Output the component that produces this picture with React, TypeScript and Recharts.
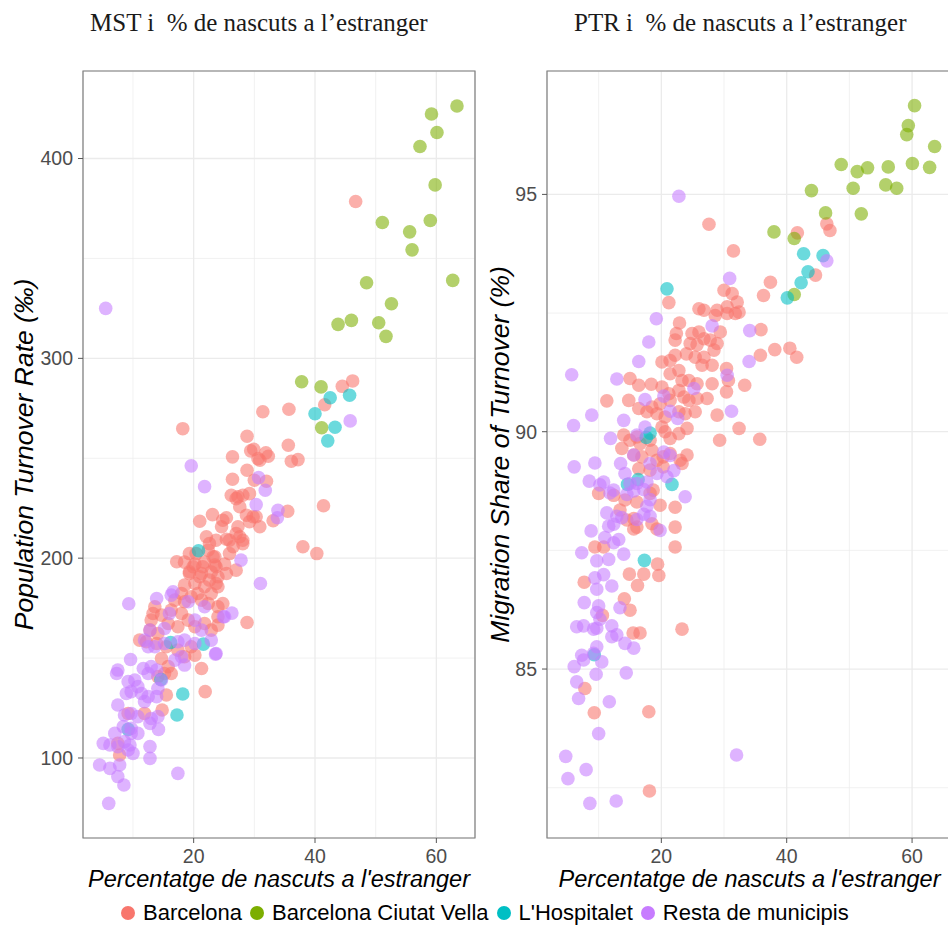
import React from 'react';
import {
  ScatterChart,
  Scatter,
  XAxis,
  YAxis,
  CartesianGrid,
  ReferenceArea,
} from 'recharts';

// ---- data ----
type Pt = [number, number];

const groups = ['Barcelona', 'Barcelona Ciutat Vella', "L'Hospitalet", 'Resta de municipis'];
const groupColors = ['#F8766D', '#7CAE00', '#00BFC4', '#C77CFF'];

const xTicks = [20, 40, 60];
const xMinor = [10, 30, 50];
const xDomain: [number, number] = [1.76, 66.37];

const mstTicks = [100, 200, 300, 400];
const mstMinor = [150, 250, 350];
const mstDomain: [number, number] = [59.96, 443.8];

const ptrTicks = [85, 90, 95];
const ptrMinor = [82.5, 87.5, 92.5];
const ptrDomain: [number, number] = [81.44, 97.6];

// MST panel
const mstBarcelona: Pt[] = [
  [46.7, 378.5], [18.2, 264.8], [46.2, 288.7], [44.5, 286], [41.6, 276.8], [31.4, 273.3], [35.7, 274.5], [28.8, 261], [35.6, 256.5],
  [29.9, 254.5], [29.4, 253.7], [31.9, 252.7], [32.3, 251], [26.4, 250.7], [30.6, 249.8], [36.1, 248.5], [37.2, 249.3],
  [30.9, 249], [28.8, 244], [26.4, 239.5], [30.0, 239], [32.0, 238.5],
  [26.2, 231.5], [27.3, 230.7], [28.1, 231.5], [29.2, 232.3], [35.5, 223.5], [41.4, 226.2],
  [21.0, 218.5], [23.1, 221.8], [25.4, 220.2], [24.6, 215.7], [27.3, 215.7], [28.7, 221.5], [29.2, 218.2], [30.3, 220.7], [30.9, 215.7], [33.1, 218.7],
  [38.0, 205.7], [40.3, 202.3],
  [22.1, 210.7], [22.6, 207.3], [22.4, 204], [23.5, 200.7], [25.9, 209], [26.5, 205.7], [27.0, 212.3], [27.6, 210.7], [28.1, 207.3], [25.9, 202.3],
  [17.2, 198.2], [19.3, 202.3], [19.9, 195.7], [21.5, 195.7], [23.7, 195.7], [25.4, 192.3], [27.0, 194], [19.3, 193.2], [21.0, 190.7],
  [27.0, 229.8], [27.6, 225.7], [29.8, 220.7], [24.8, 219],
  [23.7, 209], [25.4, 209.5], [28.1, 209], [23.2, 200.7], [20.4, 202.3], [22.6, 189], [23.7, 187.3],
  [18.5, 198], [20.2, 197], [21.8, 198], [23.5, 196.5], [25.1, 197],
  [19.3, 192.3], [21.3, 192.3], [22.9, 193], [24.0, 190.7],
  [18.5, 186.5], [20.2, 187.3], [21.8, 185.7], [20.7, 182.3], [22.9, 182.3], [24.0, 185.7],
  [18.0, 182.3], [16.9, 179], [18.5, 178.2], [19.6, 180.7], [21.3, 179], [22.4, 177.3], [24.0, 175.7], [24.8, 177.3],
  [13.6, 175.7], [13.3, 172.3], [14.7, 171.5], [16.3, 174], [18.0, 172.3], [15.8, 167.3], [17.4, 165.7], [19.1, 169], [20.2, 165.7],
  [21.8, 167.3], [22.9, 164], [24.0, 170.7], [24.0, 166.5], [28.8, 167.8],
  [13.0, 169], [12.8, 164], [14.1, 162.3],
  [11.1, 159], [12.2, 158.2], [13.9, 157.3], [15.5, 155.7], [17.4, 154], [19.6, 155.7], [20.2, 151.5], [18.5, 150.7],
  [14.7, 149.8], [15.8, 145.7], [15.2, 142.3], [14.1, 140.7], [16.3, 142.3],
  [21.3, 144.8], [21.9, 133.2], [15.5, 131.5], [14.8, 124], [9.2, 122.3], [11.9, 122.3], [7.8, 101.5], [7.5, 107.3],
];

const mstCiutatVella: Pt[] = [
  [63.4, 426.3], [59.2, 422.3], [60.1, 413], [57.3, 406], [59.8, 386.8], [51.1, 368], [55.6, 363.3], [59.0, 369], [56.0, 354.3],
  [48.5, 337.8], [62.7, 339], [52.6, 327.3], [43.8, 317], [46.0, 319], [50.5, 317.8], [51.7, 311], [37.8, 288.3], [41.0, 285.7], [41.1, 265.3],
];

const mstHospitalet: Pt[] = [
  [42.5, 280.3], [45.7, 281.5], [40.0, 272.3], [43.3, 265.5], [42.1, 258.7],
  [20.8, 203.7], [16.2, 157.8], [21.6, 157], [14.6, 139.3], [18.2, 132], [17.25, 121.5], [9.2, 114.3],
];

const mstResta: Pt[] = [
  [5.5, 325], [19.6, 246.2], [21.8, 235.8], [30.7, 240.3], [31.8, 234], [30.3, 226.8], [33.9, 224], [33.8, 220.2], [27.8, 199],
  [31.0, 187.3], [9.3, 177.2], [24.9, 170.7], [23.6, 152], [17.4, 92.3], [6.0, 77.3], [45.8, 268.7], [26.3, 172.5],
  [13.9, 179.8], [16.3, 181.5], [16.6, 183.2],
  [16.0, 172.3], [19.1, 178.2], [21.8, 175.7], [25.1, 170.7], [20.2, 169], [21.3, 164], [12.8, 164], [15.2, 164.8],
  [11.9, 159], [12.5, 155.7], [13.6, 155.7], [15.2, 157.3], [17.4, 158.2], [18.5, 159], [20.2, 157.3], [22.9, 159], [23.7, 152.3],
  [18.0, 150.7], [16.9, 149], [18.5, 146.5],
  [9.6, 149.3], [7.5, 144], [7.3, 142.3],
  [11.7, 144.8], [13.0, 145.7], [12.5, 142.3], [13.9, 144],
  [9.2, 138.2], [10.3, 139], [10.8, 135.7], [9.7, 133.2], [11.4, 132.3], [12.5, 130.7], [11.9, 128.2], [8.9, 132.3], [14.1, 134.8], [13.9, 130.7],
  [14.7, 139],
  [7.5, 126.5], [8.6, 121.5], [9.7, 122.3], [10.8, 120.7], [13.0, 119.8], [14.1, 120.7], [8.4, 115.7], [9.7, 114.8], [9.7, 112.3],
  [10.8, 112.3], [14.2, 114.3], [12.8, 117.3],
  [7.0, 112.3], [5.1, 107.3], [6.2, 106.5], [7.5, 105.7], [8.6, 108.2], [9.5, 106.5], [9.2, 104], [10.0, 102.3], [12.8, 105.7], [12.8, 99.8],
  [4.5, 96.5], [6.2, 94.8], [7.8, 96.5], [7.5, 90.7], [8.5, 86.5],
];

// PTR panel
const ptrBarcelona: Pt[] = [
  [27.6, 94.37], [31.5, 93.81], [41.7, 94.19], [46.4, 94.38], [46.9, 94.24], [44.6, 93.3], [40.5, 91.76], [41.6, 91.57],
  [21.2, 92.72],
  [26.0, 92.59], [26.8, 92.56], [28.9, 92.56], [30.5, 92.63], [32.1, 92.73], [30.0, 92.98], [31.3, 92.91], [28.6, 92.45], [30.5, 92.49],
  [31.8, 92.49], [32.4, 92.52],
  [36.3, 92.87], [37.4, 93.15], [35.9, 92.15], [35.8, 91.61], [38.1, 91.73],
  [22.9, 92.29], [22.4, 92.07], [22.2, 91.93], [24.9, 92.07], [26.0, 92.1], [26.8, 91.96], [27.8, 91.93], [28.9, 91.86], [29.4, 92.1],
  [28.4, 91.72], [25.7, 91.83], [24.6, 91.86], [25.4, 91.57], [26.8, 91.57], [28.1, 91.4], [26.5, 91.4], [24.0, 91.64], [22.2, 91.61],
  [21.4, 91.5], [20.1, 91.47], [22.8, 91.29], [21.4, 91.22], [23.3, 91.08], [24.4, 91.08], [25.7, 91.01], [28.1, 91.01], [30.4, 91.33],
  [30.7, 91.08], [30.4, 90.84], [33.3, 90.98],
  [15.0, 91.12], [16.4, 90.98], [18.4, 91.0], [20.1, 90.94], [21.2, 90.8], [22.8, 90.87], [23.6, 90.73], [24.4, 90.66], [25.7, 90.7],
  [27.3, 90.7], [11.3, 90.65], [14.8, 90.66], [16.4, 90.49], [18.5, 90.52], [19.8, 90.59], [21.4, 90.66], [17.7, 90.42], [19.3, 90.38],
  [20.6, 90.31], [22.8, 90.42], [23.8, 90.38], [25.4, 90.42], [28.9, 90.35], [32.4, 90.07], [29.3, 89.82], [35.7, 89.84], [24.1, 90.07],
  [22.8, 89.96], [21.4, 89.86], [20.1, 90.1], [20.6, 90.0],
  [14.0, 89.93], [15.0, 89.82], [13.7, 89.65], [15.6, 89.51], [16.9, 89.47], [18.5, 89.61], [19.3, 89.4], [20.3, 89.47], [21.4, 89.54],
  [23.0, 89.4], [24.1, 89.51], [18.2, 89.19], [20.3, 89.26], [16.4, 89.22],
  [16.1, 89.89], [18.2, 89.82], [16.6, 89.75], [23.3, 89.33],
  [10.0, 88.7], [12.4, 88.66], [14.2, 88.56], [16.1, 88.52], [18.2, 88.7], [18.7, 88.77], [19.8, 88.45], [22.2, 88.41], [22.2, 87.99],
  [22.2, 87.57], [15.6, 87.95], [16.1, 87.99], [18.5, 88.06], [19.3, 87.95], [9.4, 87.57], [10.8, 87.57], [13.4, 88.35], [14.5, 88.14],
  [15.6, 88.17], [19.4, 87.21], [19.6, 86.97], [17.2, 87.0], [14.9, 87.0], [16.2, 86.76], [7.7, 86.83], [14.1, 86.48], [15.0, 86.24],
  [10.6, 86.13],
  [7.8, 84.59], [9.3, 84.08], [18.0, 84.1], [18.1, 82.43], [15.5, 85.76], [16.6, 85.76], [23.3, 85.84],
];

const ptrCiutatVella: Pt[] = [
  [60.4, 96.87], [59.4, 96.45], [59.15, 96.26], [63.6, 96.01], [48.7, 95.63], [51.25, 95.48], [52.9, 95.56], [56.2, 95.58], [60.05, 95.65],
  [62.8, 95.57], [43.95, 95.08], [50.6, 95.13], [55.8, 95.2], [57.55, 95.13], [46.2, 94.61], [51.9, 94.59], [37.97, 94.21], [41.2, 94.07],
  [41.2, 92.89],
];

const ptrHospitalet: Pt[] = [
  [20.9, 93.01], [42.7, 93.75], [45.8, 93.71], [43.4, 93.37], [42.3, 93.14], [40.1, 92.82], [17.6, 89.88], [18.2, 89.97], [16.3, 88.99],
  [14.6, 88.89], [21.7, 88.89], [17.3, 87.29], [9.3, 85.3],
];

const ptrResta: Pt[] = [
  [22.8, 94.96], [30.9, 93.23], [46.4, 93.6], [5.7, 91.2], [6.0, 90.13],
  [19.2, 92.38], [18.0, 91.89], [16.4, 91.48], [12.9, 91.11], [8.9, 90.35], [14.0, 90.24], [17.4, 90.68], [20.4, 90.75], [25.2, 90.91],
  [28.1, 92.23], [34.1, 92.13], [34.0, 91.48], [30.5, 91.19], [31.2, 90.43], [21.4, 90.43], [22.6, 90.28], [16.1, 89.93], [11.9, 89.86],
  [17.4, 90.1],
  [6.1, 89.26], [9.4, 89.34], [8.5, 88.96], [13.5, 89.33], [10.8, 88.94], [12.4, 88.77], [14.2, 89.12], [15.0, 88.91], [16.1, 88.91],
  [17.7, 88.94], [19.3, 89.12], [20.9, 89.05], [22.0, 89.18], [20.4, 89.57], [21.4, 89.5], [18.2, 89.33], [10.2, 88.88], [11.8, 88.71],
  [14.5, 88.68], [15.6, 88.75], [17.2, 88.78], [18.2, 88.57], [17.7, 88.43], [11.3, 88.29], [12.9, 88.22], [13.7, 88.19], [16.1, 88.15],
  [17.2, 88.26], [18.2, 88.22], [12.4, 88.05], [11.6, 88.01], [8.8, 87.91], [11.0, 87.77], [12.4, 87.66], [13.2, 87.73], [7.3, 87.45],
  [9.7, 87.28], [11.6, 87.31], [14.0, 87.42], [9.4, 86.92], [10.8, 86.99], [12.1, 86.75], [9.7, 86.68], [7.7, 86.4], [10.0, 86.33],
  [9.7, 86.19], [10.2, 86.05], [13.4, 86.29], [23.8, 88.63], [19.8, 87.92], [15.6, 89.51],
  [6.5, 85.89], [7.6, 85.91], [9.2, 85.84], [9.7, 85.86], [12.1, 85.91], [12.1, 85.68], [12.9, 85.72], [14.2, 85.54], [15.6, 85.44],
  [9.7, 85.47], [7.3, 85.29], [7.6, 85.19], [9.2, 85.33], [10.5, 85.15], [6.1, 85.05], [9.6, 84.89], [14.4, 84.92], [6.5, 84.73],
  [6.8, 84.38], [11.7, 84.31], [10.0, 83.64], [4.75, 83.16], [8.0, 82.88], [5.1, 82.69], [8.6, 82.17], [12.8, 82.22], [32.0, 83.19],
];

const SANS = '"Liberation Sans", Arial, sans-serif';
const SERIF = '"Liberation Serif", "Times New Roman", serif';

const toRows = (pts: Pt[]) => pts.map(([x, y]) => ({ x, y }));

const makeDot = (color: string) => (props: any) => (
  <circle cx={props.cx} cy={props.cy} r={6.8} fill={color} fillOpacity={0.58} />
);

interface PanelProps {
  width: number;
  yAxisWidth: number;
  rightMargin: number;
  series: Pt[][];
  yDomain: [number, number];
  yTicks: number[];
  yMinor: number[];
  yLabel: string;
  yLabelOffset: number;
}

const Panel = ({ width, yAxisWidth, rightMargin, series, yDomain, yTicks, yMinor, yLabel, yLabelOffset }: PanelProps) => (
  <ScatterChart width={width} height={926} margin={{ top: 71, right: rightMargin, bottom: 0, left: 0 }}>
    <CartesianGrid horizontalValues={yMinor} verticalValues={xMinor} stroke="#ebebeb" strokeWidth={0.7} />
    <CartesianGrid stroke="#ebebeb" strokeWidth={1.3} />
    <XAxis
      type="number"
      dataKey="x"
      domain={xDomain}
      ticks={xTicks}
      allowDataOverflow
      axisLine={false}
      tickSize={5}
      tickMargin={6}
      tickLine={{ stroke: '#555' }}
      tick={{ fill: '#4d4d4d', fontSize: 19.5, fontFamily: SANS }}
      height={88}
      label={{
        value: "Percentatge de nascuts a l'estranger",
        position: 'insideBottom',
        offset: 39,
        style: { fontStyle: 'italic', fontSize: 23.5, fill: '#000', fontFamily: SANS },
      }}
    />
    <YAxis
      type="number"
      dataKey="y"
      domain={yDomain}
      ticks={yTicks}
      allowDataOverflow
      axisLine={false}
      width={yAxisWidth}
      tickSize={5}
      tickMargin={5}
      tickLine={{ stroke: '#555' }}
      tick={{ fill: '#4d4d4d', fontSize: 19.5, fontFamily: SANS }}
      label={{
        value: yLabel,
        angle: -90,
        position: 'insideLeft',
        offset: yLabelOffset,
        style: { textAnchor: 'middle', fontStyle: 'italic', fontSize: 26.5, fill: '#000', fontFamily: SANS },
      }}
    />
    {series.map((pts, i) => (
      <Scatter
        key={groups[i]}
        name={groups[i]}
        data={toRows(pts)}
        fill={groupColors[i]}
        shape={makeDot(groupColors[i])}
        isAnimationActive={false}
      />
    ))}
    <ReferenceArea
      x1={xDomain[0]}
      x2={xDomain[1]}
      y1={yDomain[0]}
      y2={yDomain[1]}
      fill="none"
      fillOpacity={0}
      stroke="#7f7f7f"
      strokeWidth={1.2}
      ifOverflow="visible"
    />
  </ScatterChart>
);

const titleStyle: React.CSSProperties = {
  position: 'absolute',
  top: 10,
  fontFamily: SERIF,
  fontSize: 25,
  lineHeight: 1,
  color: '#1a1a1a',
  whiteSpace: 'pre',
};

const App = () => (
  <div style={{ position: 'absolute', left: 0, top: 0, width: 948, height: 926, overflow: 'hidden', background: '#fff' }}>
    <div style={{ position: 'absolute', left: 0, top: 0 }}>
      <Panel
        width={480}
        yAxisWidth={83}
        rightMargin={5}
        series={[mstBarcelona, mstCiutatVella, mstHospitalet, mstResta]}
        yDomain={mstDomain}
        yTicks={mstTicks}
        yMinor={mstMinor}
        yLabel="Population Turnover Rate (‰)"
        yLabelOffset={24}
      />
    </div>
    <div style={{ position: 'absolute', left: 480, top: 0 }}>
      <Panel
        width={472}
        yAxisWidth={67}
        rightMargin={0}
        series={[ptrBarcelona, ptrCiutatVella, ptrHospitalet, ptrResta]}
        yDomain={ptrDomain}
        yTicks={ptrTicks}
        yMinor={ptrMinor}
        yLabel="Migration Share of Turnover (%)"
        yLabelOffset={20}
      />
    </div>
    <div style={{ ...titleStyle, left: 90 }}>{'MST i  % de nascuts a l’estranger'}</div>
    <div style={{ ...titleStyle, left: 574 }}>{'PTR i  % de nascuts a l’estranger'}</div>
    <div
      style={{
        position: 'absolute',
        left: 121,
        top: 900,
        height: 26,
        display: 'flex',
        alignItems: 'center',
        fontFamily: SANS,
        fontSize: 22,
        color: '#000',
      }}
    >
      {groups.map((g, i) => (
        <div key={g} style={{ display: 'flex', alignItems: 'center', marginRight: 8 }}>
          <span
            style={{
              display: 'inline-block',
              width: 14,
              height: 14,
              borderRadius: 7,
              background: groupColors[i],
              marginRight: 8,
            }}
          />
          <span>{g}</span>
        </div>
      ))}
    </div>
  </div>
);

export default App;
